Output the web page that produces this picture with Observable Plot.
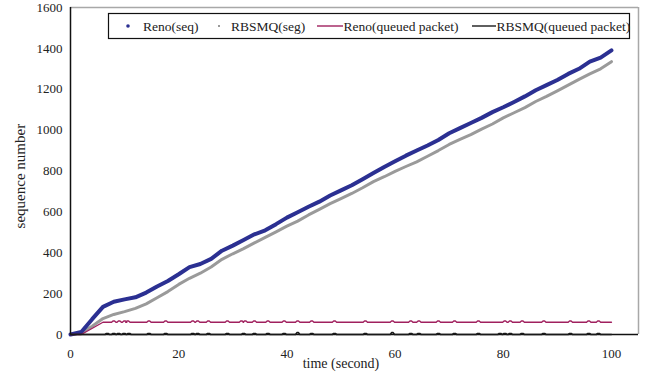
<!DOCTYPE html>
<html>
<head>
<meta charset="utf-8">
<script src="https://cdn.jsdelivr.net/npm/d3@7"></script>
<script src="https://cdn.jsdelivr.net/npm/@observablehq/plot@0.6"></script>
<style>
  html, body { margin: 0; padding: 0; background: #fff; }
  #wrap { position: relative; width: 651px; height: 380px; font-family: "Liberation Serif", "Times New Roman", serif; }
  #legend { position: absolute; left: 0; top: 0; }
</style>
</head>
<body>
<div id="wrap"></div>
<script>
// ---- data ----
const time = [0,2,4,6,8,10,12,14,16,18,20,22,24,26,28,30,32,34,36,38,40,42,44,46,48,50,52,54,56,58,60,62,64,66,68,70,72,74,76,78,80,82,84,86,88,90,92,94,96,98,100];
const renoSeq = [0,12,75,135,160,172,182,205,235,262,295,330,345,370,410,435,462,490,510,540,572,598,625,650,680,705,730,760,790,820,848,875,900,925,952,985,1010,1035,1060,1088,1112,1138,1165,1195,1220,1245,1275,1300,1335,1355,1390];
const rbsmqSeg = [0,8,40,78,98,112,128,150,180,210,245,275,300,330,368,395,420,448,475,502,530,555,585,612,640,665,690,718,748,772,798,822,845,872,900,930,955,978,1005,1030,1060,1085,1110,1140,1165,1192,1220,1248,1275,1300,1335];

// queued packets: ramp then a level with small bumps at these times
const renoQueueRampTime = [0, 2, 6];
const renoQueueRampValue = [0, 0, 60];
const renoQueueLevel = 60, renoQueuePeak = 66;
const queueBumpTimes = [8,9,10,10.6,14.5,17.6,22.6,23.5,25.5,29,31.6,32.3,34,36.5,39.5,42,44.6,48.8,54.5,59.5,62.9,64.4,68,71,75.4,80.3,81.3,83.5,87.5,92.4,95.8,97.6];
const rbsmqQueueBumpTimes = [6.8,8,8.9,9.9,10.8,14.5,17.6,22.6,23.5,25.5,29,32,34,36.5,39.5,42,44.6,48.8,54.5,59.5,62.9,64.4,68,71,75.4,79.4,80.3,81.3,83.5,87.5,92.4,95.8,97.6];
const rbsmqQueuePeaks = [5,5,5,5,5,5,5,5,5,5,5,5,5,5,5,9,5,5,5,9,5,5,5,5,5,5,5,5,5,5,5,5,5];
const endTime = 100;

const xTicks = [0,20,40,60,80,100];
const yTicks = [0,200,400,600,800,1000,1200,1400,1600];

const seriesNames = ["Reno(seq)", "RBSMQ(seg)", "Reno(queued packet)", "RBSMQ(queued packet)"];
const seriesColors = ["#2B3092", "#9A9A9A", "#A0205E", "#1a1a1a"];

// ---- build tables ----
const seqReno = time.map((t, i) => ({t, v: renoSeq[i]}));
const seqRbsmq = time.map((t, i) => ({t, v: rbsmqSeg[i]}));

function bumpLine(times, base, peaks) {
  const pts = [];
  times.forEach((b, i) => {
    const p = Array.isArray(peaks) ? peaks[i] : peaks;
    pts.push({t: b - 0.4, v: base}, {t: b - 0.15, v: p}, {t: b + 0.15, v: p}, {t: b + 0.4, v: base});
  });
  return pts;
}
const renoQueue = renoQueueRampTime.map((t, i) => ({t, v: renoQueueRampValue[i]}))
  .concat(bumpLine(queueBumpTimes, renoQueueLevel, renoQueuePeak))
  .concat([{t: endTime, v: renoQueueLevel}]);
const rbsmqQueue = [{t: 0, v: 0}]
  .concat(bumpLine(rbsmqQueueBumpTimes, 0, rbsmqQueuePeaks))
  .concat([{t: endTime, v: 0}]);

const font = '"Liberation Serif", "Times New Roman", serif';

const chart = Plot.plot({
  width: 651,
  height: 380,
  marginLeft: 70,
  marginRight: 13,
  marginTop: 7,
  marginBottom: 46,
  style: {fontFamily: font, fontSize: "13px", color: "#222", background: "#fff"},
  x: {domain: [0, 105], ticks: xTicks, tickSize: 0, tickPadding: 14, label: null, tickFormat: d3.format("d")},
  y: {domain: [0, 1600], ticks: yTicks, tickSize: 0, tickPadding: 8, label: null, tickFormat: d3.format("d")},
  marks: [
    Plot.ruleY([1600], {stroke: "#a8a8a8", strokeWidth: 1.5}),
    Plot.ruleX([105], {stroke: "#a8a8a8", strokeWidth: 1.5}),
    Plot.line(seqRbsmq, {x: "t", y: "v", stroke: seriesColors[1], strokeWidth: 3}),
    Plot.line(seqReno, {x: "t", y: "v", stroke: seriesColors[0], strokeWidth: 4}),
    Plot.line(renoQueue, {x: "t", y: "v", stroke: seriesColors[2], strokeWidth: 1.4}),
    Plot.ruleX([0], {stroke: "#111", strokeWidth: 1.5}),
    Plot.ruleY([0], {stroke: "#111", strokeWidth: 1.5}),
    Plot.line(rbsmqQueue, {x: "t", y: "v", stroke: seriesColors[3], strokeWidth: 1.6}),
    Plot.text(["time (second)"], {x: 50, frameAnchor: "bottom", dy: 33, fontSize: 14, fill: "#222"}),
    Plot.text(["sequence number"], {y: 775, frameAnchor: "left", dx: -50, rotate: -90, textAnchor: "middle", fontSize: 15, fill: "#222"})
  ]
});

const wrap = document.getElementById("wrap");
wrap.appendChild(chart);

// ---- legend (drawn over the plot, top inside) ----
const lg = d3.select(wrap).append("svg")
  .attr("id", "legend")
  .attr("width", 651).attr("height", 50)
  .style("font-family", font).style("font-size", "13.5px");
lg.append("rect").attr("x", 108.5).attr("y", 13.5).attr("width", 521).attr("height", 25)
  .attr("fill", "#fff").attr("stroke", "#111").attr("stroke-width", 1.2);
const cy = 26;
lg.append("circle").attr("cx", 128).attr("cy", cy).attr("r", 1.8).attr("fill", seriesColors[0]);
lg.append("text").attr("x", 143).attr("y", cy + 4.5).text(seriesNames[0]).attr("fill", "#222");
lg.append("rect").attr("x", 218).attr("y", cy - 1).attr("width", 2).attr("height", 2).attr("fill", seriesColors[1]);
lg.append("text").attr("x", 231).attr("y", cy + 4.5).text(seriesNames[1]).attr("fill", "#222");
lg.append("line").attr("x1", 317).attr("x2", 343).attr("y1", cy).attr("y2", cy).attr("stroke", seriesColors[2]).attr("stroke-width", 1.4);
lg.append("text").attr("x", 343.5).attr("y", cy + 4.5).text(seriesNames[2]).attr("fill", "#222");
lg.append("line").attr("x1", 472).attr("x2", 496).attr("y1", cy).attr("y2", cy).attr("stroke", seriesColors[3]).attr("stroke-width", 1.4);
lg.append("text").attr("x", 496.5).attr("y", cy + 4.5).text(seriesNames[3]).attr("fill", "#222");
</script>
</body>
</html>
